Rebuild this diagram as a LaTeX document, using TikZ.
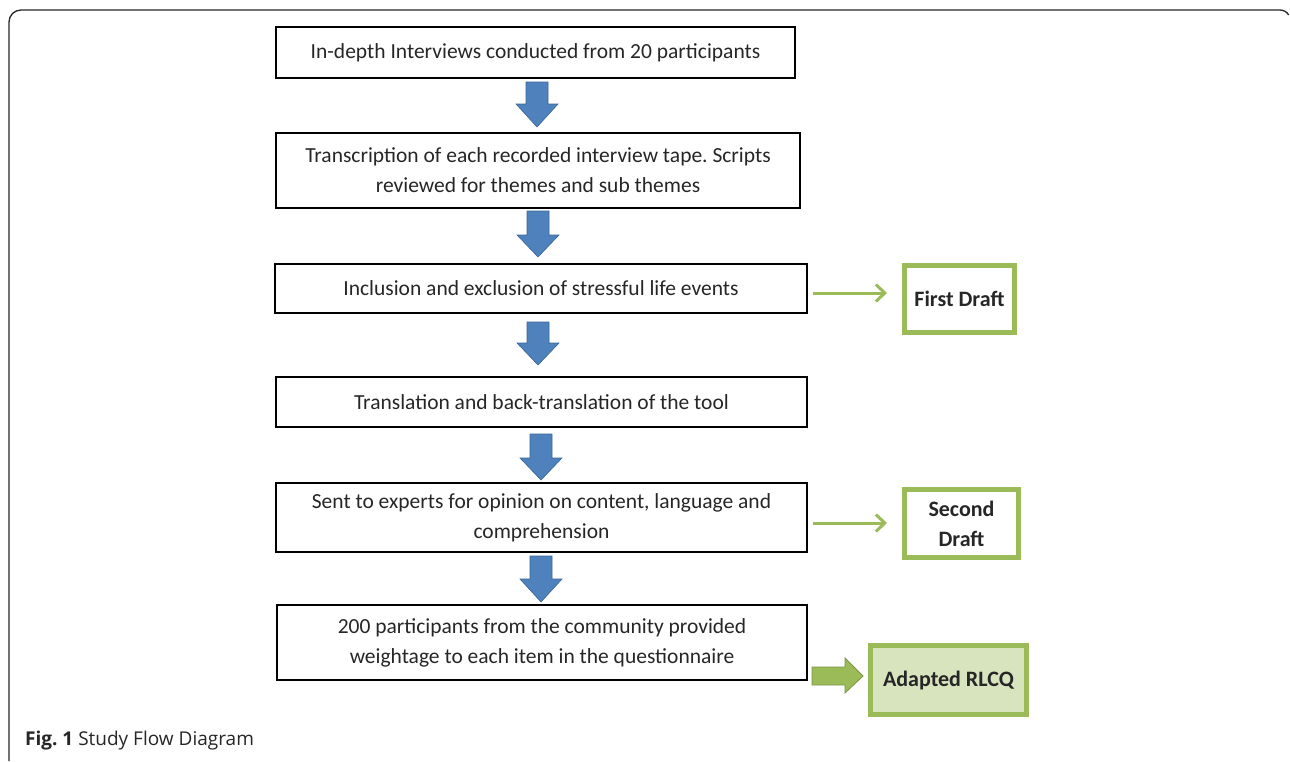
\documentclass[tikz,border=0pt]{standalone}
\usepackage{fontspec}
\setmainfont{Carlito}
\newfontfamily\capfont{Open Sans}
\usetikzlibrary{arrows.meta}
\frenchspacing
\definecolor{arblue}{HTML}{4F81BD}
\definecolor{arblueline}{HTML}{3A6596}
\definecolor{grn}{HTML}{9BBB59}
\definecolor{grnfill}{HTML}{D7E4BD}
\definecolor{grndark}{HTML}{7A9443}
\definecolor{txt}{HTML}{262626}
\tikzset{
  stepbox/.style={draw=black, line width=1.8pt, inner sep=0pt, align=center, text=txt, font=\fontsize{21.5}{30}\selectfont},
  draftbox/.style={draw=grn, line width=5pt, inner sep=0pt, align=center, text=txt, font=\bfseries\fontsize{22}{30}\selectfont},
  bluearrow/.style={fill=arblue, draw=arblueline, line width=0.6pt},
  greenline/.style={draw=grn, line width=3pt, -{Straight Barb[length=9pt,width=17pt,line width=3pt]}},
  greenblock/.style={fill=grn, draw=grndark, line width=0.8pt}
}
\newcommand\blockdown[4]{% cx, top, headbase, tip
  \path[bluearrow] (#1-11,#2) -- (#1+11,#2) -- (#1+11,#3) -- (#1+21,#3) -- (#1,#4) -- (#1-21,#3) -- (#1-11,#3) -- cycle;}
\begin{document}
\begin{tikzpicture}[x=1pt,y=-1pt]
\useasboundingbox (0,0) rectangle (1290,761);
% outer frame
\draw[line width=1.3pt, black!85] (9,761) -- (9,22) arc[start angle=180,end angle=270,radius=12] -- (1280,10) arc[start angle=270,end angle=330,radius=10];

\node[stepbox, minimum width=519pt, minimum height=51pt] (b1) at (535.5,52.5) {In-depth Interviews conducted from 20 participants};
\node[stepbox, minimum width=524pt, minimum height=75pt] (b2) at (538,170.5) {Transcription of each recorded interview tape. Scripts\\reviewed for themes and sub themes};
\node[stepbox, minimum width=532pt, minimum height=49pt] (b3) at (541,288.5) {Inclusion and exclusion of stressful life events};
\node[stepbox, minimum width=531pt, minimum height=50pt] (b4) at (541.5,402) {Translation and back-translation of the tool};
\node[stepbox, minimum width=531pt, minimum height=69pt] (b5) at (541.5,517.5) {Sent to experts for opinion on content, language and\\comprehension};
\node[stepbox, minimum width=530pt, minimum height=75pt] (b6) at (542,642.5) {200 participants from the community provided\\weightage to each item in the questionnaire};

\node[draftbox, minimum width=110pt, minimum height=67pt] (d1) at (959.5,299) {First Draft};
\node[draftbox, minimum width=114pt, minimum height=68pt] (d2) at (961.5,523.5) {Second\\Draft};
\node[draftbox, fill=grnfill, minimum width=156pt, minimum height=69pt] (d3) at (948.5,680) {Adapted RLCQ};

\blockdown{537}{82}{104}{127}
\blockdown{538}{211}{235}{257}
\blockdown{538}{322}{343}{365}
\blockdown{541}{434}{458}{480}
\blockdown{541}{556}{579}{602}

\coordinate (g1s) at (813,293);
\coordinate (g1e) at (887,293);
\coordinate (g2s) at (813,523);
\coordinate (g2e) at (887,523);
\draw[greenline] (g1s) -- (g1e);
\draw[greenline] (g2s) -- (g2e);
\path[greenblock] (812,667) -- (845,667) -- (845,658) -- (863,676) -- (845,693) -- (845,685) -- (812,685) -- cycle;

\node[anchor=base west, inner sep=0pt, text=black!85, font=\capfont\fontsize{19}{22}\selectfont] (cap) at (25,745) {\textbf{Fig. 1} Study Flow Diagram};
\end{tikzpicture}
\end{document}
